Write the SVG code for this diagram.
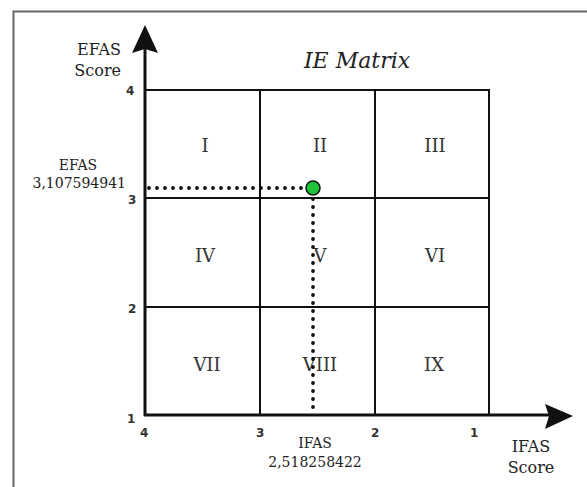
<svg xmlns="http://www.w3.org/2000/svg" width="587" height="487" viewBox="0 0 587 487">
<style>
.serif{font-family:"DejaVu Serif","Liberation Serif",serif;fill:#222}
.tick{font-family:"DejaVu Sans","Liberation Sans",sans-serif;font-size:12px;fill:#333;font-weight:600}
.cell{fill:none;stroke:#111;stroke-width:2}
.axis{stroke:#111;stroke-width:3;fill:none}
.dots{stroke:#111;stroke-width:3.8;stroke-linecap:round;stroke-dasharray:0 8;fill:none}
.num{font-family:"DejaVu Serif","Liberation Serif",serif;font-size:18px;fill:#333;text-anchor:middle}
</style>
<rect width="587" height="487" fill="#fff"/>
<path d="M13.5 487V11.5H587" fill="none" stroke="#666" stroke-width="2"/>
<text class="serif" x="357" y="68" font-size="22" font-style="italic" text-anchor="middle">IE Matrix</text>
<g id="grid">
<rect class="cell" x="145" y="90" width="344" height="325"/>
<line class="cell" x1="260" y1="90" x2="260" y2="415"/>
<line class="cell" x1="375" y1="90" x2="375" y2="415"/>
<line class="cell" x1="145" y1="198" x2="489" y2="198"/>
<line class="cell" x1="145" y1="307" x2="489" y2="307"/>
</g>
<g id="cells">
<text class="num" x="205" y="152">I</text>
<text class="num" x="320" y="152">II</text>
<text class="num" x="435" y="152">III</text>
<text class="num" x="205" y="262">IV</text>
<text class="num" x="320" y="262">V</text>
<text class="num" x="435" y="262">VI</text>
<text class="num" x="207" y="371">VII</text>
<text class="num" x="320" y="371">VIII</text>
<text class="num" x="434" y="371">IX</text>
</g>
<g id="axes">
<line class="axis" x1="145" y1="416" x2="145" y2="48"/>
<polygon points="145,25 158,53 145,49 132,53" fill="#111"/>
<line class="axis" x1="144" y1="415" x2="550" y2="415"/>
<polygon points="573,416 545,404 549,416 545,429" fill="#111"/>
</g>
<g id="connectors">
<line class="dots" x1="149" y1="188" x2="305" y2="188"/>
<line class="dots" x1="313" y1="199" x2="313" y2="415"/>
</g>
<g id="point">
<circle cx="313" cy="188" r="7" fill="#1fc23a" stroke="#111" stroke-width="1.5"/>
</g>
<g id="ticks">
<text class="tick" x="126" y="95">4</text>
<text class="tick" x="128" y="204">3</text>
<text class="tick" x="128" y="313">2</text>
<text class="tick" x="127" y="423">1</text>
<text class="tick" x="140" y="437">4</text>
<text class="tick" x="256" y="437">3</text>
<text class="tick" x="371" y="437">2</text>
<text class="tick" x="470" y="437">1</text>
</g>
<g id="labels">
<text class="serif" font-size="16" text-anchor="end" x="121" y="55">EFAS</text>
<text class="serif" font-size="16" text-anchor="end" x="121" y="76">Score</text>
<text class="serif" font-size="14" text-anchor="middle" x="78" y="170">EFAS</text>
<text class="serif" font-size="14" text-anchor="end" x="126" y="188">3,107594941</text>
<text class="serif" font-size="14" text-anchor="middle" x="315" y="448">IFAS</text>
<text class="serif" font-size="14" text-anchor="middle" x="315" y="467">2,518258422</text>
<text class="serif" font-size="16" text-anchor="middle" x="531" y="452">IFAS</text>
<text class="serif" font-size="16" text-anchor="middle" x="531" y="473">Score</text>
</g>
</svg>
